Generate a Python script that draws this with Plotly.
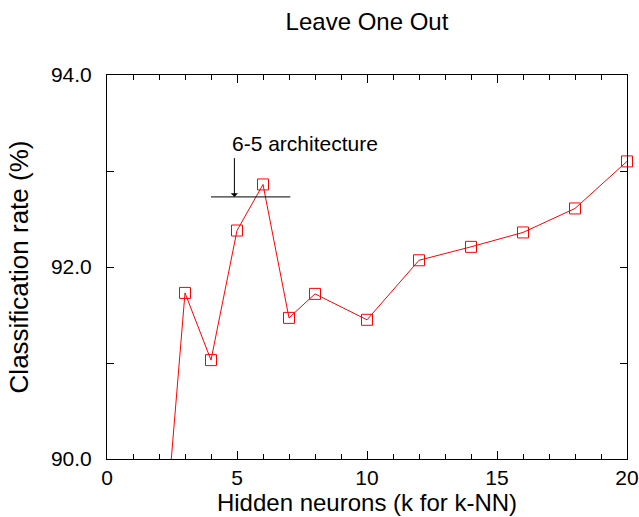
import plotly.graph_objects as go

# Data
hidden_neurons = [2, 3, 4, 5, 6, 7, 8, 10, 12, 14, 16, 18, 20]
classification_rate = [88.45, 91.73, 91.03, 92.38, 92.86, 91.47, 91.72, 91.45, 92.07, 92.21, 92.36, 92.61, 93.10]

x_tick_vals = [0, 5, 10, 15, 20]
y_tick_vals = [90.0, 92.0, 94.0]

annot_text = "6-5 architecture"
annot_line_x = [4.0, 7.05]
annot_line_y = 92.73
arrow_x = 4.9
arrow_top = 93.15
text_x = 4.72
text_y = 93.29

FONT = "Liberation Sans, Arial, sans-serif"

W, H = 639, 517

fig = go.Figure()
fig.add_trace(go.Scatter(
    x=hidden_neurons, y=classification_rate,
    mode="lines+markers",
    line=dict(color="#ff0000", width=1),
    marker=dict(symbol="square-open", size=11, color="#ff0000", line=dict(width=1, color="#ff0000")),
    cliponaxis=False,
    showlegend=False,
))

fig.add_shape(type="line", xref="x", yref="y",
              x0=annot_line_x[0], x1=annot_line_x[1], y0=annot_line_y, y1=annot_line_y,
              line=dict(color="black", width=1))
fig.add_annotation(x=arrow_x, y=annot_line_y, ax=arrow_x, ay=arrow_top,
                   xref="x", yref="y", axref="x", ayref="y",
                   text="", showarrow=True, arrowhead=1, arrowsize=1.2, arrowwidth=1,
                   arrowcolor="black")
fig.add_annotation(x=text_x, y=text_y, xref="x", yref="y", text=annot_text,
                   showarrow=False, xanchor="left", yanchor="middle",
                   font=dict(family=FONT, size=21, color="black"))

fig.update_layout(
    width=W, height=H,
    margin=dict(l=107, r=12, t=75, b=58, autoexpand=False),
    paper_bgcolor="white", plot_bgcolor="white",
    font=dict(family=FONT, color="black"),
    title=dict(text="Leave One Out", x=0.5, xref="paper", y=1 - 22 / H,
               yref="container", xanchor="center", yanchor="middle",
               font=dict(family=FONT, size=24, color="black")),
)
fig.update_xaxes(
    range=[0, 20], tickvals=x_tick_vals, ticks="inside", ticklen=8, tickwidth=1,
    tickcolor="black", showline=True, linecolor="black", linewidth=1, mirror="ticks",
    showgrid=False, zeroline=False, tickfont=dict(size=21), automargin=False,
    ticklabeloverflow="allow",
    minor=dict(dtick=1, ticks="inside", ticklen=5, tickcolor="black", showgrid=False),
    title=dict(text="Hidden neurons (k for k-NN)", font=dict(size=24), standoff=2),
)
fig.update_yaxes(
    range=[90, 94], tickvals=y_tick_vals, tickformat=".1f", ticks="inside", ticklen=7,
    tickwidth=1, tickcolor="black", showline=True, linecolor="black", linewidth=1,
    mirror="ticks", showgrid=False, zeroline=False, tickfont=dict(size=21),
    ticklabelstandoff=10, automargin=False,
    minor=dict(dtick=1, ticks="inside", ticklen=7, tickcolor="black", showgrid=False),
    title=dict(text="Classification rate (%)", font=dict(size=26), standoff=14),
)

fig.write_html(
    "out.html",
    config={"displayModeBar": False},
    post_script="document.body.style.margin='0';document.body.style.overflow='hidden';",
)
